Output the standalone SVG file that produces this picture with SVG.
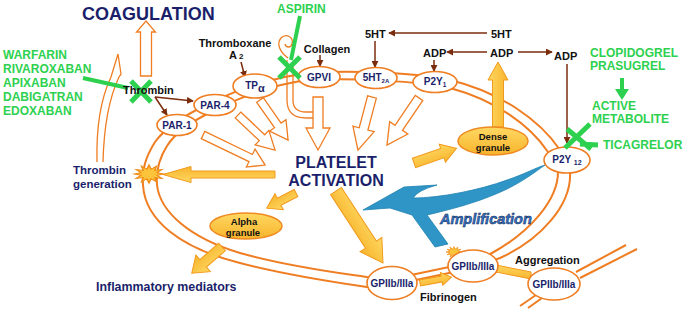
<svg xmlns="http://www.w3.org/2000/svg" width="685" height="309" viewBox="0 0 685 309">
<defs>
<linearGradient id="yg" x1="0" y1="0" x2="0" y2="1"><stop offset="0" stop-color="#ffd862"/><stop offset="1" stop-color="#f7b42c"/></linearGradient>
<marker id="bh" viewBox="0 0 8 8" refX="7" refY="4" markerWidth="7" markerHeight="7" markerUnits="userSpaceOnUse" orient="auto"><path d="M0,0 L8,4 L0,8 Z" fill="#7a2c0c"/></marker>
<polygon id="star" points="10,0 5.31,1.42 8.66,5 3.89,3.89 5,8.66 1.42,5.31 0,10 -1.42,5.31 -5,8.66 -3.89,3.89 -8.66,5 -5.31,1.42 -10,0 -5.31,-1.42 -8.66,-5 -3.89,-3.89 -5,-8.66 -1.42,-5.31 0,-10 1.42,-5.31 5,-8.66 3.89,-3.89 8.66,-5 5.31,-1.42"/>
</defs>
<style>
.ring{fill:none;stroke:#ef7d22;stroke-width:2}
.oa{fill:#fff;stroke:#ef7d22;stroke-width:1.3;stroke-linejoin:miter}
.ol{fill:none;stroke:#ef7d22;stroke-width:1.3}
.ya{fill:url(#yg);stroke:#f29a1c;stroke-width:1}
.node{fill:#fff;stroke:#ef7d22;stroke-width:1.6}
.gran{fill:url(#yg);stroke:#ef8a22;stroke-width:1.5}
.br{fill:none;stroke:#7a2c0c;stroke-width:1.5;marker-end:url(#bh)}
.gr{fill:none;stroke:#2ed14f;stroke-linecap:butt}
text{font-family:"Liberation Sans",Arial,sans-serif;font-weight:bold}
.nl{fill:#1b1f6b;font-size:10px;text-anchor:middle}
.bl{fill:#111;font-size:11px}
.gl{fill:#111;font-size:9.5px;text-anchor:middle}
.nv{fill:#1b1f6b}
.gt{fill:#2ed14f;font-size:12px}
.st{fill:#fcc43a;stroke:#f08c1a;stroke-width:1;vector-effect:non-scaling-stroke}
</style>

<g id="connectors">
<path class="ring" d="M560,150 C540,120 500,92 450,80 C420,73 350,70 310,73 C280,76 240,88 210,103 C185,115 165,128 155,142 C145,158 142,170 143,185 C145,220 180,248 240,263 C290,276 340,283 367,287 L392,285 L473,268 L500,258 C540,240 572,205 570,172 C569,165 565,156 560,150 Z"/>
<path class="ring" d="M548,152 C530,125 495,100 450,88 C420,81 350,78 310,80 C280,83 245,95 215,110 C192,121 175,133 167,146 C158,160 156,172 157,185 C160,212 190,238 240,253 C290,267 340,273 367,277 L392,279 L473,262 L492,253 C530,232 558,200 558,172 C556,165 552,158 548,152 Z"/>
<path class="ring" d="M576,272 L626,245 M580,278 L637,249 M536,295 L520,306 M542,298 L528,308"/>
<polygon class="ya" points="496,265 531,272 531,279 496,272"/>
<path class="ol" d="M97,162 C96,122 102,96 111,77 L118,54 L121,74 L119,77 C110,96 104,122 103,162"/>
<path class="oa" d="M0,-5.5 L44,-5.5 L44,-9.5 L55,0 L44,9.5 L44,5.5 L0,5.5Z" transform="translate(146,76) rotate(-90)"/>
<path class="ol" d="M288,58 C280,52 276,44 281,38 C286,33 294,37 292,44 C291,48 286,48 285,44"/>
<path class="ol" d="M287,60 L287,100 Q287,118 306,118 L314,118 M293,64 L293,100 Q293,112 306,112 L314,112"/>
<path class="oa" d="M0,-4 L53,-4 L53,-10 L69,0 L53,10 L53,4 L0,4Z" transform="translate(203,135) rotate(25.8)"/>
<path class="oa" d="M0,-4 L33,-4 L33,-10 L51,0 L33,10 L33,4 L0,4Z" transform="translate(238,115) rotate(43.4)"/>
<path class="oa" d="M0,-4 L31,-4 L31,-10 L49,0 L31,10 L31,4 L0,4Z" transform="translate(260,100) rotate(55)"/>
<path class="oa" d="M0,-5 L31,-5 L31,-12 L53,0 L31,12 L31,5 L0,5Z" transform="translate(318,97) rotate(90)"/>
<path class="oa" d="M0,-4.5 L33,-4.5 L33,-11 L55,0 L33,11 L33,4.5 L0,4.5Z" transform="translate(372,97) rotate(104.8)"/>
<path class="oa" d="M0,-4.5 L36,-4.5 L36,-11 L57,0 L36,11 L36,4.5 L0,4.5Z" transform="translate(419,98) rotate(124.2)"/>
<path class="ya" d="M0,-3.5 L84,-3.5 L84,-8 L112,0 L84,8 L84,3.5 L0,3.5Z" transform="translate(275,174.5) rotate(180)"/>
<path class="ya" d="M0,-4 L19,-4 L19,-9 L33,0 L19,9 L19,4 L0,4Z" transform="translate(296,193) rotate(152.6)"/>
<path class="ya" d="M0,-5 L25,-5 L25,-11 L40,0 L25,11 L25,5 L0,5Z" transform="translate(222,247) rotate(139.1)"/>
<path class="ya" d="M0,-6.5 L64,-6.5 L64,-13 L86,0 L64,13 L64,6.5 L0,6.5Z" transform="translate(336,191) rotate(56.9)"/>
<path class="ya" d="M0,-5 L30,-5 L30,-9.5 L45,0 L30,9.5 L30,5 L0,5Z" transform="translate(414,163) rotate(-19.2)"/>
<path class="ya" d="M0,-5.5 L47,-5.5 L47,-10 L65,0 L47,10 L47,5.5 L0,5.5Z" transform="translate(498,127) rotate(-90)"/>
<path class="ya" d="M0,-3 L22,-3 L22,-6.5 L32,0 L22,6.5 L22,3 L0,3Z" transform="translate(420,283) rotate(-10.6)"/>
<path class="br" d="M155,97 L193,101"/>
<path class="br" d="M155,97 L167,115"/>
<path class="br" d="M241,62 L245,77"/>
<path class="br" d="M320,55 L320,66"/>
<path class="br" d="M375,41 L375,67"/>
<path class="br" d="M487,33 L389,33"/>
<path class="br" d="M434,60 L434,71"/>
<path class="br" d="M487,52 L447,52"/>
<path class="br" d="M518,52 L552,52"/>
<path class="br" d="M567,64 L567,143"/>
<path fill="#2e95c6" stroke="#1f82b0" stroke-width="0.8" d="M363,210 L404,187 L437,185 Q418,190 413,198 C440,198 480,190 507,180 C525,174 535,168 545,165 C535,172 525,180 507,189 C490,197 470,205 427,215 L448,244 L435,247 L412,215 L390,208 Z"/>
</g>

<use href="#star" class="st" transform="translate(149,174) scale(1.5,0.9)"/>
<use href="#star" class="st" transform="translate(454,252) scale(0.8,0.55)"/>

<g id="par1"><ellipse class="node" cx="177" cy="125" rx="20" ry="10.5"/><text class="nl" x="177" y="129">PAR-1</text></g>
<g id="par4"><ellipse class="node" cx="215" cy="105" rx="21" ry="10.5"/><text class="nl" x="215" y="109">PAR-4</text></g>
<g id="tpa"><ellipse class="node" cx="255" cy="86" rx="22" ry="12"/><text class="nl" x="255" y="89">TP<tspan font-size="11" dy="3">α</tspan></text></g>
<g id="gpvi"><ellipse class="node" cx="319" cy="77" rx="21" ry="10.5"/><text class="nl" x="319" y="81">GPVI</text></g>
<g id="ht2a"><ellipse class="node" cx="376" cy="78" rx="21" ry="10.5"/><text class="nl" x="376" y="81">5HT<tspan font-size="6" dy="2">2A</tspan></text></g>
<g id="p2y1"><ellipse class="node" cx="435" cy="82" rx="22" ry="10.5"/><text class="nl" x="435" y="85">P2Y<tspan font-size="6.5" dy="2">1</tspan></text></g>
<g id="p2y12"><ellipse class="node" cx="567" cy="160" rx="23" ry="13"/><text class="nl" x="567" y="163">P2Y <tspan font-size="7" dy="2">12</tspan></text></g>
<g id="gp1"><ellipse class="node" cx="392" cy="283" rx="25" ry="16.5"/><text class="nl" x="392" y="287" font-size="9.5">GPIIb/IIIa</text></g>
<g id="gp2"><ellipse class="node" cx="473" cy="266" rx="25" ry="16"/><text class="nl" x="473" y="270" font-size="9.5">GPIIb/IIIa</text></g>
<g id="gp3"><ellipse class="node" cx="554" cy="284" rx="26" ry="16"/><text class="nl" x="554" y="288" font-size="9.5">GPIIb/IIIa</text></g>
<g id="dense"><ellipse class="gran" cx="493" cy="141" rx="35" ry="14"/><text class="gl" x="493" y="139.5">Dense</text><text class="gl" x="493" y="151">granule</text></g>
<g id="alpha"><ellipse class="gran" cx="246" cy="226" rx="36" ry="13"/><text class="gl" x="244" y="224.5">Alpha</text><text class="gl" x="243" y="236">granule</text></g>

<g id="drugs-left">
<path class="gr" stroke-width="4" d="M83,78 L128,88"/>
<path class="gr" stroke-width="5" d="M131,81 L151,102 M151,81 L131,102"/>
<text class="gt" x="3" y="59">WARFARIN</text>
<text class="gt" x="3" y="73">RIVAROXABAN</text>
<text class="gt" x="3" y="87">APIXABAN</text>
<text class="gt" x="3" y="101">DABIGATRAN</text>
<text class="gt" x="3" y="115">EDOXABAN</text>
</g>
<g id="aspirin">
<path class="gr" stroke-width="4" d="M300,16 L291,60"/>
<path class="gr" stroke-width="5" d="M279,57 L300,78 M300,57 L279,78"/>
<text class="gt" x="277" y="13">ASPIRIN</text>
</g>
<g id="drugs-right">
<text class="gt" x="590" y="57">CLOPIDOGREL</text>
<text class="gt" x="590" y="70">PRASUGREL</text>
<path class="gr" stroke-width="4" d="M622,78 L622,90"/>
<polygon fill="#2ed14f" points="615,89 629,89 622,100"/>
<text class="gt" x="592" y="110">ACTIVE</text>
<text class="gt" x="592" y="123">METABOLITE</text>
<path class="gr" stroke-width="5" d="M565,148 L590,124 M567,129 L591,149 M580,144 L598,145"/>
<text class="gt" x="603" y="149">TICAGRELOR</text>
</g>

<g id="labels">
<text class="nv" x="82" y="20" font-size="18">COAGULATION</text>
<text class="bl" x="123" y="94">Thrombin</text>
<text class="bl" x="235" y="47" text-anchor="middle" font-size="11.5">Thromboxane</text>
<text class="bl" x="229" y="59" font-size="11.5">A<tspan font-size="8" dx="2">2</tspan></text>
<text class="bl" x="327" y="53" text-anchor="middle">Collagen</text>
<text class="bl" x="365" y="38">5HT</text>
<text class="bl" x="491" y="38">5HT</text>
<text class="bl" x="423" y="57">ADP</text>
<text class="bl" x="490" y="57">ADP</text>
<text class="bl" x="554" y="60">ADP</text>
<text class="nv" x="73" y="174" font-size="11.5">Thrombin</text>
<text class="nv" x="73" y="188" font-size="11.5">generation</text>
<text class="nv" x="336" y="168" font-size="16" text-anchor="middle">PLATELET</text>
<text class="nv" x="336" y="186" font-size="16" text-anchor="middle">ACTIVATION</text>
<text class="nv" x="96" y="291" font-size="12.4">Inflammatory mediators</text>
<text x="440" y="224" font-size="14.5" font-style="italic" fill="#3577c8" stroke="#10204c" stroke-width="0.5">Amplification</text>
<text class="bl" x="420" y="301">Fibrinogen</text>
<text class="bl" x="515" y="264">Aggregation</text>
</g>
</svg>
